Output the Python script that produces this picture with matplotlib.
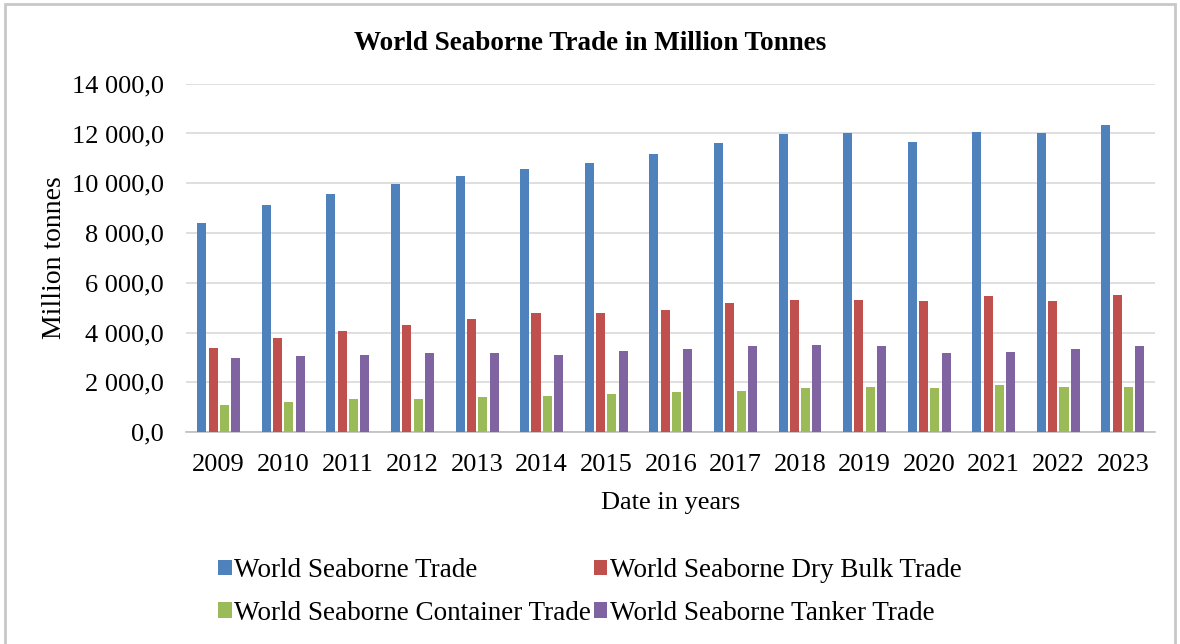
import numpy as np
import matplotlib
matplotlib.use("Agg")
import matplotlib.pyplot as plt
from matplotlib.ticker import FuncFormatter, MultipleLocator
from matplotlib.patches import Rectangle

years = ['2009', '2010', '2011', '2012', '2013', '2014', '2015', '2016',
         '2017', '2018', '2019', '2020', '2021', '2022', '2023']

# million tonnes per year
total = [8400, 9130, 9580, 9970, 10310, 10580, 10830, 11180,
         11600, 11960, 12000, 11670, 12060, 12000, 12330]
dry_bulk = [3400, 3780, 4070, 4310, 4560, 4800, 4800, 4920,
            5170, 5300, 5300, 5260, 5470, 5260, 5510]
container = [1080, 1220, 1330, 1330, 1410, 1470, 1520, 1600,
             1650, 1760, 1830, 1770, 1900, 1830, 1830]
tanker = [2970, 3050, 3100, 3160, 3160, 3100, 3270, 3360,
          3450, 3510, 3470, 3170, 3230, 3350, 3470]

series_names = ['World Seaborne Trade', 'World Seaborne Dry Bulk Trade',
                'World Seaborne Container Trade', 'World Seaborne Tanker Trade']
colors = ['#4F81BD', '#C0504D', '#9BBB59', '#8064A2']

plt.rcParams['font.family'] = ['Liberation Serif', 'DejaVu Serif']

fig = plt.figure(figsize=(11.8, 6.44), dpi=100)
ax = fig.add_axes([0.158, 0.329, 0.821, 0.541])

# outer chart frame
fig.patches.append(Rectangle((0.004, -0.01), 0.992, 1.004, transform=fig.transFigure,
                             fill=False, edgecolor='#C8C8C8', linewidth=2))

x = np.arange(len(years))
w = 0.14
step = 0.175
bars = []
for i, (vals, name, c) in enumerate(zip([total, dry_bulk, container, tanker], series_names, colors)):
    b = ax.bar(x + (i - 1.5) * step, vals, width=w, color=c, label=name, zorder=3)
    bars.append(b)

ax.set_xlim(-0.5, len(years) - 0.5)
ax.set_ylim(0, 14000)
ax.yaxis.set_major_locator(MultipleLocator(2000))
ax.yaxis.set_major_formatter(FuncFormatter(
    lambda v, p: f"{v:,.1f}".replace(",", " ").replace(".", ",")))
ax.set_xticks(x)
ax.set_xticklabels(years)

ax.grid(axis='y', color='#D9D9D9', linewidth=1.2, zorder=0)
for s in ['top', 'right', 'left']:
    ax.spines[s].set_visible(False)
ax.spines['bottom'].set_color('#BFBFBF')
ax.spines['bottom'].set_linewidth(1.2)
ax.tick_params(axis='both', length=0, labelsize=19)
ax.tick_params(axis='y', pad=16)
ax.tick_params(axis='x', pad=16)

ax.set_xlabel('Date in years', fontsize=19, labelpad=11)
ax.set_ylabel('Million tonnes', fontsize=20, labelpad=4)
fig.text(0.5, 0.932, 'World Seaborne Trade in Million Tonnes', ha='center', va='center',
         fontsize=19.5, fontweight='bold')

# legend laid out row by row
order = [0, 2, 1, 3]
fig.legend([bars[i] for i in order], [series_names[i] for i in order],
           loc='center', bbox_to_anchor=(0.5, 0.081), ncol=2, frameon=False,
           fontsize=19.5, handlelength=0.5, handleheight=0.5, handletextpad=0.1,
           columnspacing=0.1, labelspacing=0.65)

fig.savefig('out.png', dpi=100, facecolor='white')
